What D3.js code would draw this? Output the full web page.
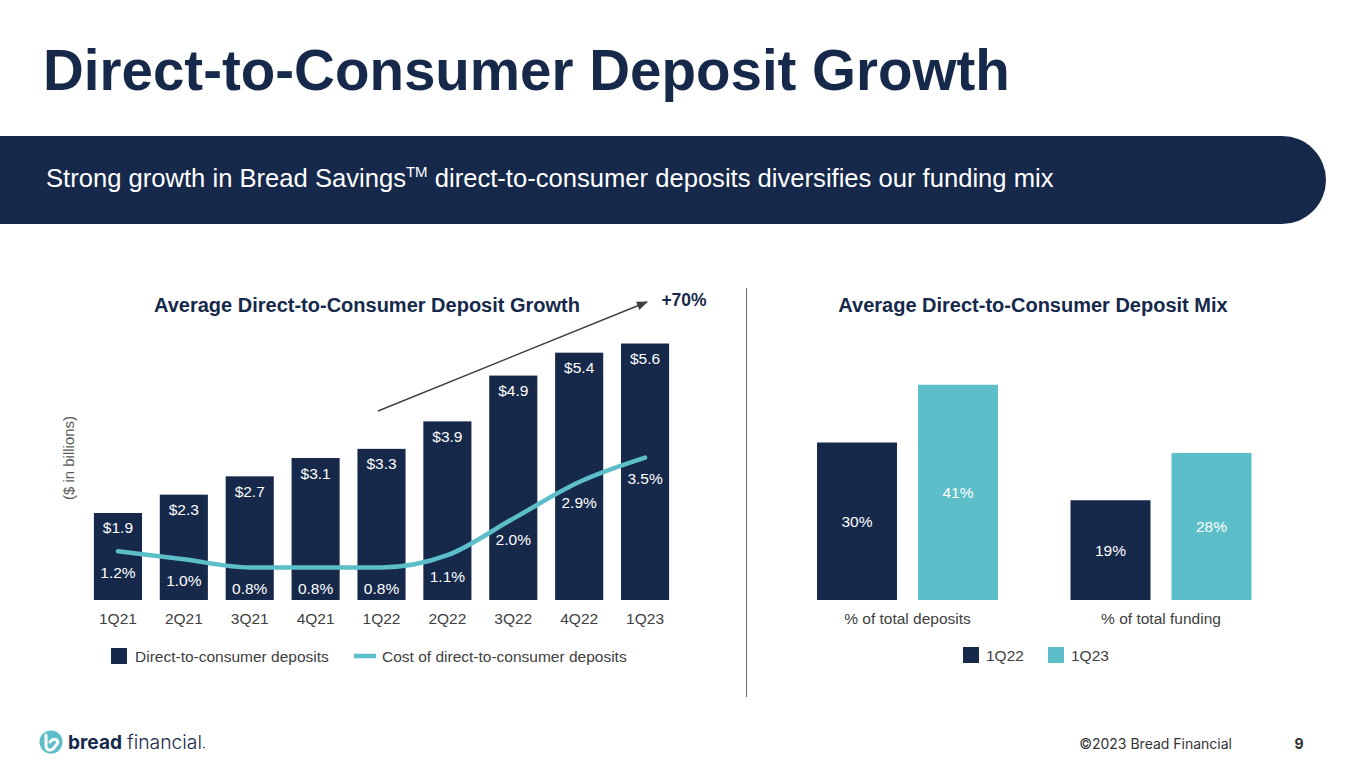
<!DOCTYPE html>
<html>
<head>
<meta charset="utf-8">
<script src="https://d3js.org/d3.v7.min.js"></script>
<style>
  html, body { margin: 0; padding: 0; background: #fff; }
  svg { display: block; }
  text { font-family: "Liberation Sans", Arial, Helvetica, sans-serif; }
</style>
</head>
<body>
<script>
  // left chart: average DTC deposits ($B) and cost (%)
  const quarters = ["1Q21", "2Q21", "3Q21", "4Q21", "1Q22", "2Q22", "3Q22", "4Q22", "1Q23"];
  const deposits = [1.9, 2.3, 2.7, 3.1, 3.3, 3.9, 4.9, 5.4, 5.6];
  const costPct = [1.2, 1.0, 0.8, 0.8, 0.8, 1.1, 2.0, 2.9, 3.5];

  // right chart: DTC deposit mix (%)
  const mixGroups = ["% of total deposits", "% of total funding"];
  const mixSeries = ["1Q22", "1Q23"];
  const mix1Q22 = [30, 19];
  const mix1Q23 = [41, 28];

  const navy = "#16294b";
  const teal = "#5bbec8";
  const grey = "#404040";

  const width = 1365, height = 768;

  const svg = d3.select("body").append("svg")
    .attr("width", width)
    .attr("height", height);

  // ---- header ----
  svg.append("text")
    .attr("x", 43).attr("y", 90)
    .attr("font-size", 56.5)
    .attr("font-weight", "bold")
    .attr("fill", navy)
    .text("Direct-to-Consumer Deposit Growth");

  svg.append("path")
    .attr("d", "M0,136 H1282 A44,44 0 0 1 1326,180 A44,44 0 0 1 1282,224 H0 Z")
    .attr("fill", navy);

  const banner = svg.append("text")
    .attr("x", 46).attr("y", 187)
    .attr("font-size", 25.6)
    .attr("fill", "#fff");
  banner.append("tspan").text("Strong growth in Bread Savings");
  banner.append("tspan").attr("font-size", 15).attr("dy", -10).text("TM");
  banner.append("tspan").attr("dy", 10).text(" direct-to-consumer deposits diversifies our funding mix");

  // divider
  svg.append("line")
    .attr("x1", 746.5).attr("x2", 746.5)
    .attr("y1", 288).attr("y2", 697)
    .attr("stroke", "#6b6b6b").attr("stroke-width", 1);

  // ---- left chart ----
  svg.append("text")
    .attr("x", 367).attr("y", 312)
    .attr("text-anchor", "middle")
    .attr("font-size", 20).attr("font-weight", "bold")
    .attr("fill", navy)
    .text("Average Direct-to-Consumer Deposit Growth");

  svg.append("text")
    .attr("x", 684).attr("y", 306)
    .attr("text-anchor", "middle")
    .attr("font-size", 17.5).attr("font-weight", "bold")
    .attr("fill", navy)
    .text("+70%");

  const x = d3.scaleBand()
    .domain(quarters)
    .range([85, 678])
    .paddingInner(0.27)
    .paddingOuter(0.135);

  const y = d3.scaleLinear().domain([0, 6]).range([600, 325.2]);
  const y2 = d3.scaleLinear().domain([0, 6.75]).range([600, 325.3]);

  const left = svg.append("g");

  left.selectAll("rect.dep")
    .data(deposits)
    .enter()
    .append("rect")
    .attr("class", "dep")
    .attr("x", (d, i) => x(quarters[i]))
    .attr("y", d => y(d))
    .attr("width", x.bandwidth())
    .attr("height", d => y(0) - y(d))
    .attr("fill", navy);

  left.selectAll("text.dep")
    .data(deposits)
    .enter()
    .append("text")
    .attr("class", "dep")
    .attr("x", (d, i) => x(quarters[i]) + x.bandwidth() / 2)
    .attr("y", d => y(d) + 20.5)
    .attr("text-anchor", "middle")
    .attr("font-size", 15.5)
    .attr("fill", "#fff")
    .text(d => "$" + d.toFixed(1));

  const costLine = d3.line()
    .x((d, i) => x(quarters[i]) + x.bandwidth() / 2)
    .y(d => y2(d))
    .curve(d3.curveMonotoneX);

  left.append("path")
    .datum(costPct)
    .attr("d", costLine)
    .attr("fill", "none")
    .attr("stroke", teal)
    .attr("stroke-width", 4.5)
    .attr("stroke-linecap", "round");

  left.selectAll("text.cost")
    .data(costPct)
    .enter()
    .append("text")
    .attr("class", "cost")
    .attr("x", (d, i) => x(quarters[i]) + x.bandwidth() / 2)
    .attr("y", d => y2(d) + 26.5)
    .attr("text-anchor", "middle")
    .attr("font-size", 15.5)
    .attr("fill", "#fff")
    .text(d => d.toFixed(1) + "%");

  const xAxis = left.append("g")
    .attr("transform", "translate(0,600)")
    .call(d3.axisBottom(x).tickSize(0).tickPadding(12.5));
  xAxis.select(".domain").remove();
  xAxis.selectAll("text")
    .attr("font-size", 15.5)
    .attr("font-family", null)
    .attr("fill", grey);

  svg.append("text")
    .attr("transform", "translate(74,458) rotate(-90)")
    .attr("text-anchor", "middle")
    .attr("font-size", 15)
    .attr("fill", "#595959")
    .text("($ in billions)");

  // growth arrow
  svg.append("defs").append("marker")
    .attr("id", "arrow")
    .attr("viewBox", "0 0 10 10")
    .attr("refX", 9).attr("refY", 5)
    .attr("markerWidth", 8).attr("markerHeight", 8)
    .attr("orient", "auto")
    .append("path")
    .attr("d", "M0,1 L10,5 L0,9 Z")
    .attr("fill", grey);

  svg.append("line")
    .attr("x1", 378).attr("y1", 411)
    .attr("x2", 647).attr("y2", 302)
    .attr("stroke", grey)
    .attr("stroke-width", 1.4)
    .attr("marker-end", "url(#arrow)");

  // left legend
  svg.append("rect")
    .attr("x", 111).attr("y", 648)
    .attr("width", 16).attr("height", 16)
    .attr("fill", navy);
  svg.append("text")
    .attr("x", 135).attr("y", 661.5)
    .attr("font-size", 15.5).attr("fill", grey)
    .text("Direct-to-consumer deposits");
  svg.append("line")
    .attr("x1", 354).attr("x2", 376)
    .attr("y1", 656).attr("y2", 656)
    .attr("stroke", teal).attr("stroke-width", 4.5);
  svg.append("text")
    .attr("x", 382).attr("y", 661.5)
    .attr("font-size", 15.5).attr("fill", grey)
    .text("Cost of direct-to-consumer deposits");

  // ---- right chart ----
  svg.append("text")
    .attr("x", 1033).attr("y", 312)
    .attr("text-anchor", "middle")
    .attr("font-size", 20).attr("font-weight", "bold")
    .attr("fill", navy)
    .text("Average Direct-to-Consumer Deposit Mix");

  const xg = d3.scaleBand()
    .domain(mixGroups)
    .range([780.75, 1287.75])
    .paddingInner(0.286)
    .paddingOuter(0.143);

  const xs = d3.scaleBand()
    .domain(mixSeries)
    .range([0, xg.bandwidth()])
    .paddingInner(0.208);

  const yR = d3.scaleLinear().domain([0, 45]).range([600, 363.75]);
  const seriesColor = d3.scaleOrdinal().domain(mixSeries).range([navy, teal]);

  const mixRows = mixGroups.map((g, i) => ({
    group: g,
    values: [
      { key: "1Q22", value: mix1Q22[i] },
      { key: "1Q23", value: mix1Q23[i] }
    ]
  }));

  const right = svg.append("g");

  const grp = right.selectAll("g.grp")
    .data(mixRows)
    .enter()
    .append("g")
    .attr("class", "grp")
    .attr("transform", d => "translate(" + xg(d.group) + ",0)");

  grp.selectAll("rect")
    .data(d => d.values)
    .enter()
    .append("rect")
    .attr("x", d => xs(d.key))
    .attr("y", d => yR(d.value))
    .attr("width", xs.bandwidth())
    .attr("height", d => yR(0) - yR(d.value))
    .attr("fill", d => seriesColor(d.key));

  grp.selectAll("text")
    .data(d => d.values)
    .enter()
    .append("text")
    .attr("x", d => xs(d.key) + xs.bandwidth() / 2)
    .attr("y", d => (yR(d.value) + yR(0)) / 2 + 5.5)
    .attr("text-anchor", "middle")
    .attr("font-size", 15.5)
    .attr("fill", "#fff")
    .text(d => d.value + "%");

  const xgAxis = right.append("g")
    .attr("transform", "translate(0,600)")
    .call(d3.axisBottom(xg).tickSize(0).tickPadding(12.5));
  xgAxis.select(".domain").remove();
  xgAxis.selectAll("text")
    .attr("font-size", 15.5)
    .attr("font-family", null)
    .attr("fill", grey);

  // right legend
  const legX = [963, 1048];
  mixSeries.forEach((s, i) => {
    svg.append("rect")
      .attr("x", legX[i]).attr("y", 647)
      .attr("width", 16).attr("height", 16)
      .attr("fill", seriesColor(s));
    svg.append("text")
      .attr("x", legX[i] + 23).attr("y", 661)
      .attr("font-size", 15.5).attr("fill", grey)
      .text(s);
  });

  // ---- footer ----
  const logo = svg.append("g").attr("transform", "translate(51,742)");
  logo.append("circle").attr("r", 11.5).attr("fill", teal);
  logo.append("path")
    .attr("d", "M-5,-7 L-5,4 C-5,8 -1,9 2,7 L6,2 C8,-1 5,-4 1,-2 L-1,0")
    .attr("fill", "none")
    .attr("stroke", "#fff")
    .attr("stroke-width", 3)
    .attr("stroke-linecap", "round")
    .attr("stroke-linejoin", "round");

  svg.append("text")
    .attr("x", 68).attr("y", 748.5)
    .attr("font-size", 19)
    .attr("font-weight", "bold")
    .attr("fill", navy)
    .style("font-family", "Inter, 'Noto Sans', sans-serif")
    .attr("textLength", 54)
    .attr("lengthAdjust", "spacingAndGlyphs")
    .text("bread");
  svg.append("text")
    .attr("x", 127).attr("y", 748.5)
    .attr("font-size", 19)
    .attr("font-weight", 300)
    .attr("fill", navy)
    .style("font-family", "Inter, 'Noto Sans', sans-serif")
    .attr("textLength", 75)
    .attr("lengthAdjust", "spacingAndGlyphs")
    .text("financial");
  svg.append("circle")
    .attr("cx", 204).attr("cy", 747.5).attr("r", 0.8)
    .attr("fill", navy);

  svg.append("text")
    .attr("x", 1232).attr("y", 749)
    .attr("text-anchor", "end")
    .attr("font-size", 14)
    .attr("fill", "#333")
    .style("font-family", "Inter, 'Noto Sans', sans-serif")
    .text("©2023 Bread Financial");

  svg.append("text")
    .attr("x", 1299).attr("y", 749)
    .attr("text-anchor", "middle")
    .attr("font-size", 14)
    .attr("font-weight", "bold")
    .attr("fill", "#333")
    .style("font-family", "Inter, 'Noto Sans', sans-serif")
    .text("9");
</script>
</body>
</html>
